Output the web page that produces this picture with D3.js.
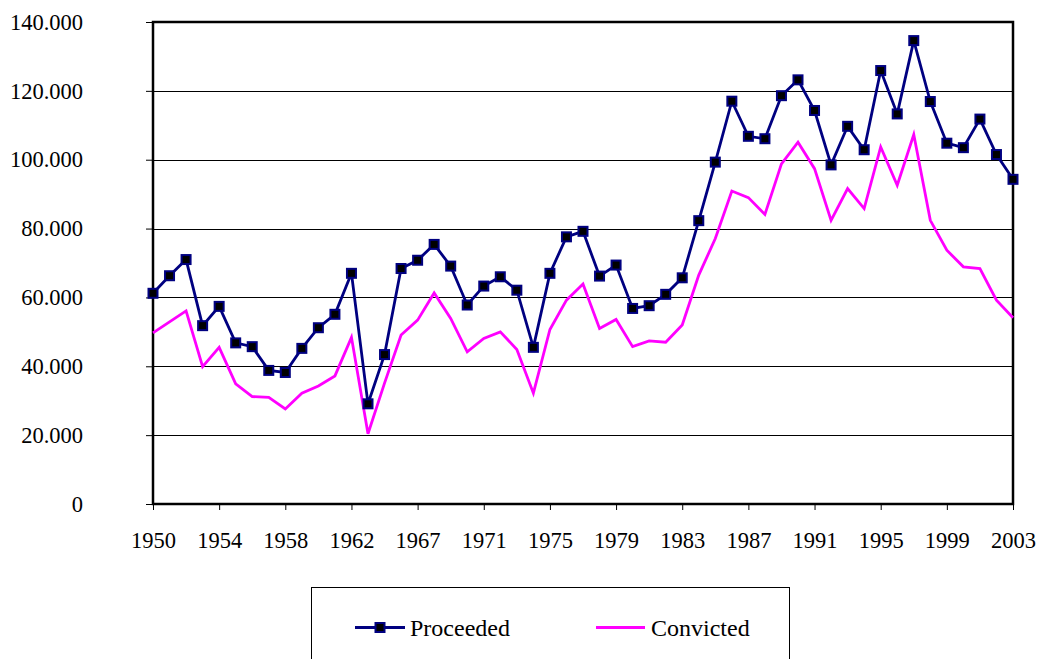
<!DOCTYPE html>
<html>
<head>
<meta charset="utf-8">
<script src="https://cdn.jsdelivr.net/npm/d3@7"></script>
<style>
  body { margin: 0; background: #fff; }
  svg { display: block; }
</style>
</head>
<body>
<div id="chart"></div>
<script>
// categories (one year not in the series between 1962 and 1967)
var years = [1950, 1951, 1952, 1953, 1954, 1955, 1956, 1957, 1958, 1959, 1960, 1961, 1962,
  1964, 1965, 1966, 1967, 1968, 1969, 1970, 1971, 1972, 1973, 1974, 1975, 1976, 1977, 1978, 1979,
  1980, 1981, 1982, 1983, 1984, 1985, 1986, 1987, 1988, 1989, 1990, 1991, 1992, 1993, 1994, 1995,
  1996, 1997, 1998, 1999, 2000, 2001, 2002, 2003];

var proceeded = [61200, 66300, 71000, 51800, 57400, 46800, 45700, 38800, 38200, 45200, 51200, 55100, 67000,
  29100, 43400, 68400, 70800, 75400, 69100, 57800, 63300, 66000, 62100, 45500, 67000, 77600, 79200, 66200, 69400,
  56800, 57600, 60900, 65700, 82300, 99300, 117000, 106800, 106100, 118600, 123200, 114300, 98500, 109700, 102900, 125900,
  113300, 134600, 116900, 104800, 103500, 111800, 101500, 94300];

var convicted = [49700, 52900, 56100, 39900, 45500, 34900, 31200, 31000, 27600, 32200, 34300, 37200, 48400,
  20400, 35100, 49100, 53400, 61300, 53900, 44200, 48100, 50000, 44900, 32200, 50700, 59200, 63900, 51000, 53600,
  45700, 47400, 47000, 52000, 66500, 77100, 90900, 89000, 84100, 98800, 105100, 97400, 82400, 91600, 85800, 103700,
  92600, 107300, 82400, 73700, 68900, 68400, 59200, 54100];

var yTicks = [0, 20000, 40000, 60000, 80000, 100000, 120000, 140000];
var xTickYears = [1950, 1954, 1958, 1962, 1967, 1971, 1975, 1979, 1983, 1987, 1991, 1995, 1999, 2003];
var seriesNames = ["Proceeded", "Convicted"];

var width = 1040, height = 659;
var plotLeft = 153, plotRight = 1013, plotTop = 22, plotBottom = 504;
var fontFam = "'Liberation Serif', serif";

var svg = d3.select("#chart").append("svg")
    .attr("width", width)
    .attr("height", height);

var locale = d3.formatLocale({decimal: ",", thousands: ".", grouping: [3], currency: ["", ""]});
var fmt = locale.format(",d");

var x = d3.scalePoint().domain(years).range([plotLeft, plotRight]);
var y = d3.scaleLinear().domain([0, 140000]).range([plotBottom, plotTop]);

// gridlines
svg.append("g")
    .selectAll("line")
    .data(yTicks.slice(1))
    .enter().append("line")
    .attr("x1", plotLeft).attr("x2", plotRight)
    .attr("y1", function(d) { return Math.round(y(d)) + 0.5; })
    .attr("y2", function(d) { return Math.round(y(d)) + 0.5; })
    .attr("stroke", "#000")
    .attr("stroke-width", 1);

// y axis
var yAxis = d3.axisLeft(y).tickValues(yTicks).tickSize(7).tickFormat(fmt);
var gy = svg.append("g")
    .attr("transform", "translate(" + plotLeft + ",0)")
    .call(yAxis);
gy.attr("font-family", null).attr("font-size", null);
gy.select(".domain").remove();
gy.selectAll("line").attr("stroke", "#000");
gy.selectAll("text")
    .attr("x", -70)
    .attr("dy", "0.32em")
    .style("font-family", fontFam)
    .style("font-size", "22.5px")
    .attr("fill", "#000");

// x axis
var xAxis = d3.axisBottom(x).tickValues(xTickYears).tickSize(6).tickPadding(22);
var gx = svg.append("g")
    .attr("transform", "translate(0," + plotBottom + ")")
    .call(xAxis);
gx.attr("font-family", null).attr("font-size", null);
gx.select(".domain").remove();
gx.selectAll("line").attr("stroke", "#000");
gx.selectAll("text")
    .style("font-family", fontFam)
    .style("font-size", "22.5px")
    .attr("fill", "#000");

// plot frame
svg.append("rect")
    .attr("x", plotLeft).attr("y", plotTop)
    .attr("width", plotRight - plotLeft).attr("height", plotBottom - plotTop)
    .attr("fill", "none")
    .attr("stroke", "#000")
    .attr("stroke-width", 2.5);

var line = d3.line()
    .x(function(d, i) { return x(years[i]); })
    .y(function(d) { return y(d); });

svg.append("path")
    .datum(convicted)
    .attr("d", line)
    .attr("fill", "none")
    .attr("stroke", "#ff00ff")
    .attr("stroke-width", 2.8);

svg.append("path")
    .datum(proceeded)
    .attr("d", line)
    .attr("fill", "none")
    .attr("stroke", "#000080")
    .attr("stroke-width", 2.8);

svg.append("g")
    .selectAll("rect")
    .data(proceeded)
    .enter().append("rect")
    .attr("x", function(d, i) { return x(years[i]) - 4.5; })
    .attr("y", function(d) { return y(d) - 4.5; })
    .attr("width", 9).attr("height", 9)
    .attr("fill", "#000")
    .attr("stroke", "#000080")
    .attr("stroke-width", 2);

// legend
var lg = svg.append("g");
lg.append("rect")
    .attr("x", 311.5).attr("y", 587.5)
    .attr("width", 478).attr("height", 120)
    .attr("fill", "#fff")
    .attr("stroke", "#000")
    .attr("stroke-width", 1);

lg.append("line")
    .attr("x1", 355).attr("x2", 405).attr("y1", 627.5).attr("y2", 627.5)
    .attr("stroke", "#000080").attr("stroke-width", 2.8);
lg.append("rect")
    .attr("x", 375.5).attr("y", 623).attr("width", 9).attr("height", 9)
    .attr("fill", "#000").attr("stroke", "#000080").attr("stroke-width", 2);
lg.append("text")
    .attr("x", 410).attr("y", 636)
    .style("font-family", fontFam)
    .style("font-size", "24px")
    .text(seriesNames[0]);

lg.append("line")
    .attr("x1", 596).attr("x2", 645).attr("y1", 627.5).attr("y2", 627.5)
    .attr("stroke", "#ff00ff").attr("stroke-width", 2.8);
lg.append("text")
    .attr("x", 651).attr("y", 636)
    .style("font-family", fontFam)
    .style("font-size", "24px")
    .text(seriesNames[1]);
</script>
</body>
</html>
